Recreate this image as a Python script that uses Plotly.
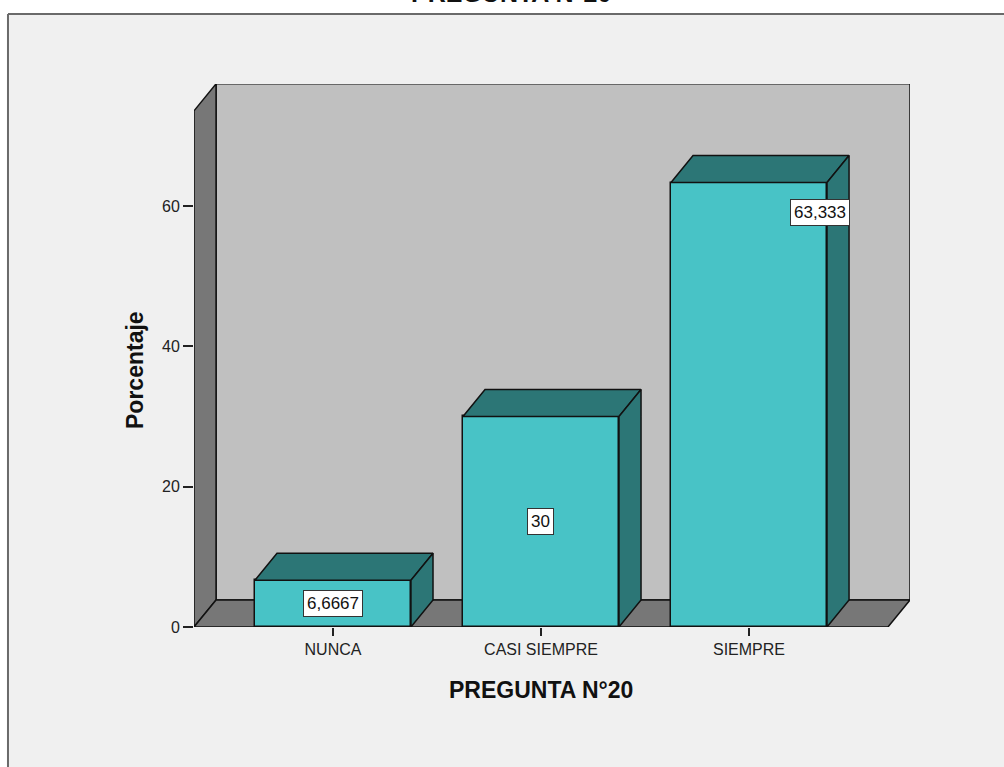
import plotly.graph_objects as go

# Chart data
categorias = ["NUNCA", "CASI SIEMPRE", "SIEMPRE"]
porcentajes = [6.6667, 30, 63.333]
etiquetas = ["6,6667", "30", "63,333"]
y_ticks = [0, 20, 40, 60]

# Styling / 3D geometry constants
FRONT = "#48c3c6"
SHADE = "#2c7676"
WALL = "#777777"
BACK = "#c0c0c0"
FRAME_BG = "#f0f0f0"
BAR_W = 0.75
DX, DY = 0.106, 3.85          # depth offset (x in category units, y in %)
X0, X1 = -0.668, 2.668        # front floor extent
YTOP = 73.55                  # front top of the side wall
FONT = "Liberation Sans, Arial, sans-serif"

fig = go.Figure()

# Front faces of the bars
fig.add_trace(go.Bar(
    x=list(range(len(categorias))), y=porcentajes, width=BAR_W,
    marker=dict(color=FRONT, line=dict(color="#111111", width=1.5)),
    hoverinfo="skip", showlegend=False,
))

# Top and side faces of each bar
top_x, top_y, side_x, side_y = [], [], [], []
for i, v in enumerate(porcentajes):
    l, r = i - BAR_W / 2, i + BAR_W / 2
    top_x += [l, l + DX, r + DX, r, l, None]
    top_y += [v, v + DY, v + DY, v, v, None]
    side_x += [r, r, r + DX, r + DX, r, None]
    side_y += [0, v, v + DY, DY, 0, None]
for xs, ys in ((top_x, top_y), (side_x, side_y)):
    fig.add_trace(go.Scatter(
        x=xs, y=ys, mode="lines", fill="toself", fillcolor=SHADE,
        line=dict(color="#111111", width=1.5), hoverinfo="skip", showlegend=False,
    ))

def poly(pts):
    return "M " + " L ".join(f"{x},{y}" for x, y in pts) + " Z"

wall_line = dict(color="#111111", width=1.5)
frame_line = dict(color="#6a6a6a", width=2)
FL, FT = -0.2598, 1.1289      # frame left / top edges (paper units)
shapes = [
    # chart panel background with its left and top border
    dict(type="rect", xref="paper", yref="paper", x0=FL, x1=1.3, y0=-0.4, y1=FT,
         fillcolor=FRAME_BG, line=dict(width=0), layer="below"),
    dict(type="line", xref="paper", yref="paper", x0=FL, x1=1.3, y0=FT, y1=FT,
         line=frame_line, layer="below"),
    dict(type="line", xref="paper", yref="paper", x0=FL, x1=FL, y0=-0.4, y1=FT,
         line=frame_line, layer="below"),
    # back wall
    dict(type="path", xref="x", yref="y", layer="below", fillcolor=BACK, line=wall_line,
         path=poly([(X0 + DX, DY), (X1 + DX, DY), (X1 + DX, YTOP + DY), (X0 + DX, YTOP + DY)])),
    # left wall
    dict(type="path", xref="x", yref="y", layer="below", fillcolor=WALL, line=wall_line,
         path=poly([(X0, 0), (X0, YTOP), (X0 + DX, YTOP + DY), (X0 + DX, DY)])),
    # floor
    dict(type="path", xref="x", yref="y", layer="below", fillcolor=WALL, line=wall_line,
         path=poly([(X0, 0), (X1, 0), (X1 + DX, DY), (X0 + DX, DY)])),
]

annotations = []
# value labels in white boxes
for i, (v, t) in enumerate(zip(porcentajes, etiquetas)):
    if v > 50:
        ax, ay = i + 0.34, v - 4.3
    else:
        ax, ay = i, v / 2
    annotations.append(dict(
        x=ax, y=ay, xref="x", yref="y", text=t, showarrow=False,
        xanchor="center", yanchor="middle",
        font=dict(family=FONT, size=17, color="#111111"),
        bgcolor="white", bordercolor="#333333", borderwidth=1, borderpad=3,
    ))

# axis titles and the chart title
annotations += [
    dict(x=0.4846, y=-0.116, xref="paper", yref="paper", text="<b>PREGUNTA N°20</b>",
         xanchor="center", yanchor="middle",
         showarrow=False, font=dict(family=FONT, size=23, color="#111111")),
    dict(x=-0.0824, y=0.4733, xref="paper", yref="paper", text="<b>Porcentaje</b>",
         xanchor="center", yanchor="middle",
         textangle=-90, showarrow=False, font=dict(family=FONT, size=23, color="#111111")),
    dict(x=0.4427, y=1.139, xref="paper", yref="paper", xanchor="center", yanchor="bottom",
         text="<b>PREGUNTA N°20</b>", showarrow=False,
         font=dict(family=FONT, size=25, color="#111111")),
]

fig.update_layout(
    width=1004, height=767,
    margin=dict(l=194, r=94, t=84, b=140),
    paper_bgcolor="white", plot_bgcolor="rgba(0,0,0,0)",
    shapes=shapes, annotations=annotations,
    font=dict(family=FONT, size=16, color="#222222"),
    bargap=0,
)
fig.update_xaxes(
    range=[X0, X1 + DX], tickvals=list(range(len(categorias))), ticktext=categorias,
    showgrid=False, zeroline=False, showline=False,
    ticks="outside", ticklen=8, tickwidth=1.5, tickcolor="#222222",
    tickfont=dict(family=FONT, size=16, color="#222222"), fixedrange=True,
)
fig.update_yaxes(
    range=[0, 77.38], tickvals=y_ticks, ticktext=[str(t) for t in y_ticks],
    showgrid=False, zeroline=False, showline=False,
    ticks="outside", ticklen=10, tickwidth=1.5, tickcolor="#222222",
    tickfont=dict(family=FONT, size=16, color="#222222"), fixedrange=True,
)

fig.write_html("out.html")
